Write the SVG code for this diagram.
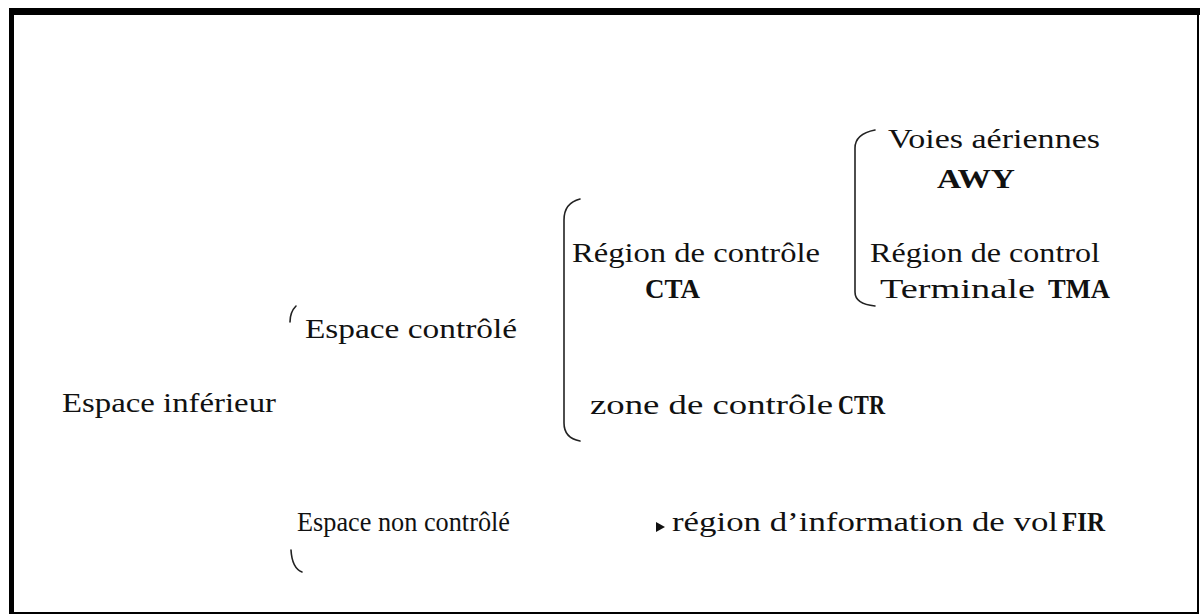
<svg xmlns="http://www.w3.org/2000/svg" width="1202" height="616" viewBox="0 0 1202 616">
<style>
text{font-family:"Liberation Serif","Times New Roman",serif;font-size:27px;fill:#111}
.b{font-weight:bold}
.br{fill:none;stroke:#222;stroke-width:1.6;stroke-linecap:round}
</style>
<rect x="0" y="0" width="1202" height="616" fill="#fff"/>
<g id="frame">
<rect x="10" y="12" width="1188" height="601" fill="none" stroke="#000" stroke-width="2"/>
<rect x="9" y="8" width="1191" height="7" fill="#000"/>
<rect x="9" y="8" width="5" height="606" fill="#000"/>
</g>
<g id="connectors">
<path class="br" d="M296,306 Q290,312 290,322"/>
<path class="br" d="M580,199 Q564,203 564,220 L564,423 Q564,438 580,441"/>
<path class="br" d="M875,130 Q855,134 855,148 L855,292 Q855,304 875,306"/>
<path class="br" d="M291,550 Q292,568 302,572"/>
<path d="M656,522 L665,527 L656,532 Z" fill="#111"/>
</g>
<g id="n-inf"><text x="62" y="412" textLength="214" lengthAdjust="spacingAndGlyphs">Espace inférieur</text></g>
<g id="n-ctrl"><text x="305" y="338" textLength="212" lengthAdjust="spacingAndGlyphs">Espace  contrôlé</text></g>
<g id="n-cta"><text x="572" y="262" textLength="248" lengthAdjust="spacingAndGlyphs">Région de contrôle</text><text class="b" x="645" y="298" textLength="55" lengthAdjust="spacingAndGlyphs">CTA</text></g>
<g id="n-awy"><text x="888" y="148" textLength="212" lengthAdjust="spacingAndGlyphs">Voies  aériennes</text><text class="b" x="937" y="188" textLength="78" lengthAdjust="spacingAndGlyphs">AWY</text></g>
<g id="n-tma"><text x="870" y="262" textLength="230" lengthAdjust="spacingAndGlyphs">Région de control</text><text x="880" y="298" textLength="155" lengthAdjust="spacingAndGlyphs">Terminale</text><text class="b" x="1048" y="298" textLength="62" lengthAdjust="spacingAndGlyphs">TMA</text></g>
<g id="n-ctr"><text x="590" y="414" textLength="243" lengthAdjust="spacingAndGlyphs">zone de contrôle</text><text class="b" x="838" y="414" textLength="47" lengthAdjust="spacingAndGlyphs">CTR</text></g>
<g id="n-nonctrl"><text x="297" y="531" textLength="213" lengthAdjust="spacingAndGlyphs">Espace non contrôlé</text></g>
<g id="n-fir"><text x="672" y="531" textLength="386" lengthAdjust="spacingAndGlyphs">région d’information de vol</text><text class="b" x="1062" y="531" textLength="43" lengthAdjust="spacingAndGlyphs">FIR</text></g>
</svg>
